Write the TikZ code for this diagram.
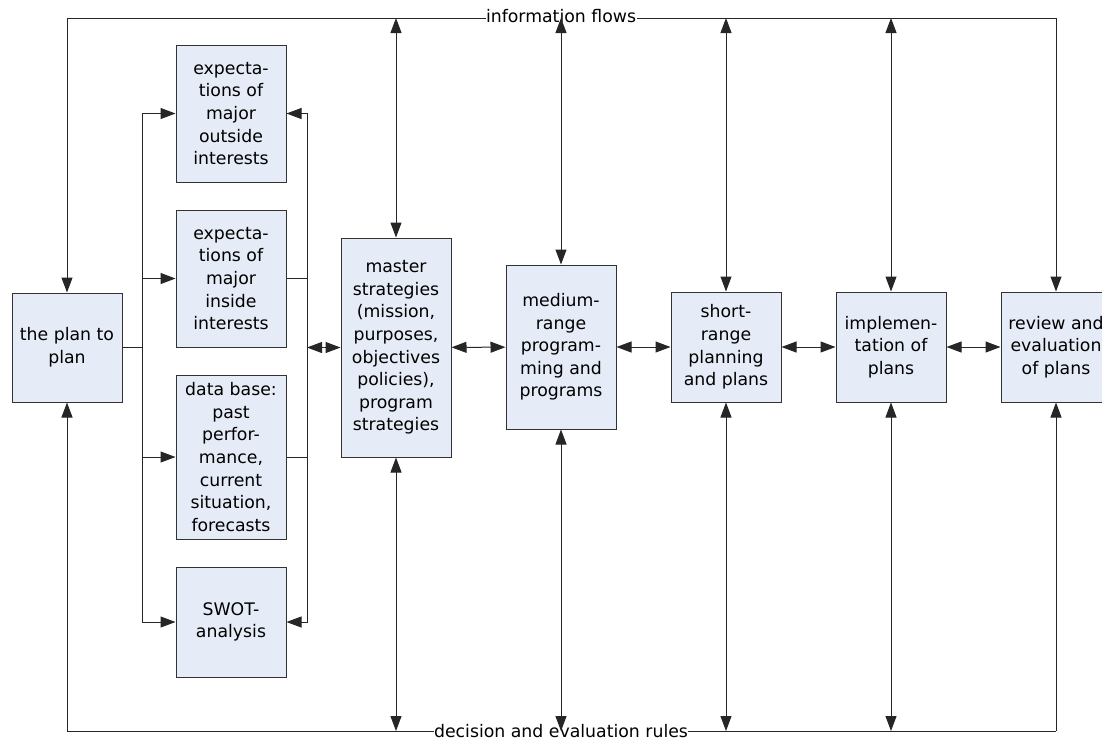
\documentclass[tikz,border=0pt]{standalone}
\usepackage{xcolor}
\usepackage{fontspec}
\setmainfont{DejaVu Sans}
\usepackage{tikz}
\usetikzlibrary{arrows.meta,positioning,shapes}
\usetikzlibrary{calc}

\definecolor{boxfill}{RGB}{230,236,247}
\definecolor{boxline}{RGB}{50,50,50}

\begin{document}
\begin{tikzpicture}[x=1pt,y=-1pt,
  every node/.style={align=center,font=\fontsize{17.3}{22.6}\selectfont},
  process/.style={draw=boxline,fill=boxfill,line width=1pt,inner sep=0pt,minimum width=110pt},
  label/.style={fill=white,inner sep=0.5pt},
  line/.style={line width=1pt,draw=black!85},
  to/.style={line,-{Triangle[length=15pt,width=11pt]}},
  both/.style={line,{Triangle[length=15pt,width=11pt]}-{Triangle[length=15pt,width=11pt]}}]

    \useasboundingbox (0,0) rectangle (1102,740);
    \clip (0,0) rectangle (1102,740);

    \node[process,minimum height=109pt](plan) at (67,347.5){the plan to\\plan};

    \node[process,minimum height=137pt](outside) at (231,113.5){expecta-\\tions of\\major\\outside\\interests};
    \node[process,minimum height=137pt](inside) at (231,278.5){expecta-\\tions of\\major\\inside\\interests};
    \node[process,minimum height=164pt](database) at (231,457){data base:\\past\\perfor-\\mance,\\current\\situation,\\forecasts};
    \node[process,minimum height=110pt](swot) at (231,622){SWOT-\\analysis};

    \node[process,minimum height=219pt](master) at (396,347.5){master\\strategies\\(mission,\\purposes,\\objectives\\policies),\\program\\strategies};
    \node[process,minimum height=164pt](medium) at (561,347){medium-\\range\\program-\\ming and\\programs};
    \node[process,minimum height=110pt](short) at (726,347){short-\\range\\planning\\and plans};
    \node[process,minimum height=110pt](impl) at (891,347){implemen-\\tation of\\plans};
    \node[process,minimum height=110pt](review) at (1056,347){review and\\evaluation\\of plans};

    \coordinate (tl) at (67,18);
    \coordinate (tr) at (1056,18);
    \coordinate (bl) at (67,731);
    \coordinate (br) at (1056,731);
    \coordinate (rbus) at (307,347.5);

    % frame lines
    \draw[line](tl) -- (tr);
    \draw[line](bl) -- (br);
    \node[label](info) at (561,16){information flows};
    \node[label](rules) at (561,731){decision and evaluation rules};

    \draw[to](tl) -- (plan.north);
    \draw[to](bl) -- (plan.south);
    \draw[to](tr) -- (review.north);
    \draw[to](br) -- (review.south);
    \foreach \n in {master,medium,short,impl}{
        \draw[both](\n.north |- tl) -- (\n.north);
        \draw[both](\n.south |- bl) -- (\n.south);
    }

    % left bus
    \draw[line](plan.east) -- ++(20,0);
    \foreach \n in {outside,inside,database,swot}
        \draw[to](plan.east) -- ++(20,0) |- (\n.west);

    % right bus
    \draw[to](rbus) |- (outside.east);
    \draw[to](rbus) |- (swot.east);
    \draw[line](inside.east) -| (rbus);
    \draw[line](database.east) -| (rbus);
    \draw[both](rbus) -- (master.west);

    \draw[both](master) -- (medium);
    \draw[both](medium) -- (short);
    \draw[both](short) -- (impl);
    \draw[both](impl) -- (review);
\end{tikzpicture}
\end{document}
